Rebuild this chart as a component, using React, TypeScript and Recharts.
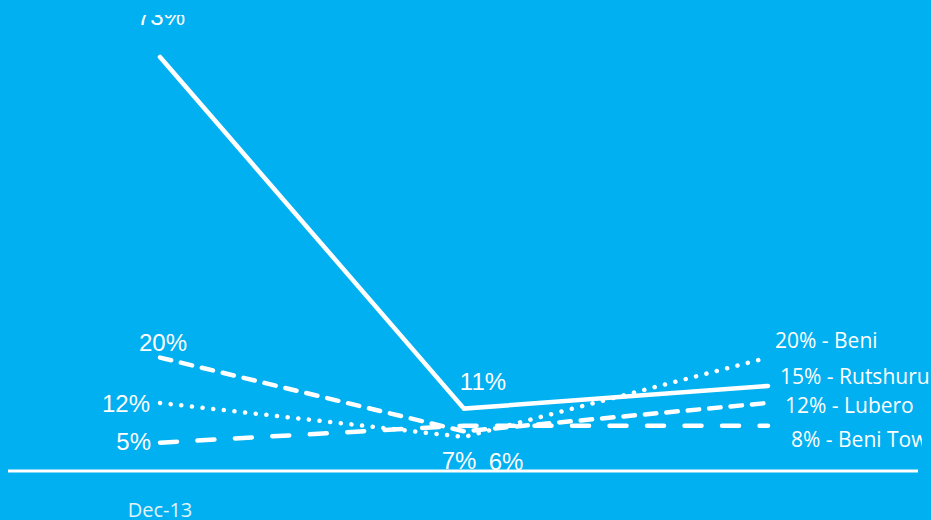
import React from "react";
import { LineChart, Line, XAxis, YAxis, LabelList } from "recharts";

// ---- data ----
const categories = ["Dec-13", "Round 2", "Round 3"];
const tickLabels = ["Dec-13", "", ""];
const rutshuru = [73, 11, 15];
const lubero = [20, 7, 12];
const beni = [12, 6, 20];
const beniTown = [5, 8, 8];
const seriesNames = ["Rutshuru", "Lubero", "Beni", "Beni Town"];

const data = categories.map((c, i) => ({
  cat: c,
  rutshuru: rutshuru[i],
  lubero: lubero[i],
  beni: beni[i],
  beniTown: beniTown[i],
}));

// ---- styles ----
const BG = "#00B0F0";
type LCfg = { dx: number; dy: number; anchor: "start" | "middle" | "end"; clip?: boolean } | null;

const cfgRutshuru: LCfg[] = [
  { dx: 1, dy: -32, anchor: "middle" },
  { dx: 19, dy: -19, anchor: "middle" },
  { dx: 12, dy: -2, anchor: "start" },
];
const cfgLubero: LCfg[] = [
  { dx: 3, dy: -7, anchor: "middle" },
  { dx: -5, dy: 38, anchor: "middle" },
  { dx: 17, dy: 10, anchor: "start" },
];
const cfgBeni: LCfg[] = [
  { dx: -10, dy: 9, anchor: "end" },
  { dx: 42, dy: 33, anchor: "middle" },
  { dx: 7, dy: -10, anchor: "start" },
];
const cfgBeniTown: LCfg[] = [
  { dx: -9, dy: 7, anchor: "end" },
  null,
  { dx: 23, dy: 21, anchor: "start", clip: true },
];

const makeLabel = (name: string, cfg: LCfg[]) => (props: any) => {
  const { x, y, value, index } = props;
  const c = cfg[index];
  if (!c) return null;
  const isEnd = index === categories.length - 1;
  const text = isEnd ? `${value}% - ${name}` : `${value}%`;
  const clipId = `clip-${name.replace(/\s/g, "")}`;
  return (
    <g>
      {c.clip && (
        <defs>
          <clipPath id={clipId}>
            <rect x={0} y={0} width={922} height={520} />
          </clipPath>
        </defs>
      )}
      <text
        x={x + c.dx}
        y={y + c.dy}
        textAnchor={c.anchor}
        fill="#FFFFFF"
        fontFamily={isEnd ? "Open Sans" : "Liberation Sans, Arial"}
        fontSize={isEnd ? 21 : 24}
        clipPath={c.clip ? `url(#${clipId})` : undefined}
      >
        {text}
      </text>
    </g>
  );
};

const Tick = (props: any) => {
  const { x, y, payload } = props;
  return (
    <text
      x={x}
      y={y}
      dy={46}
      textAnchor="middle"
      fill="#E3F3FB"
      fontFamily="Open Sans"
      fontSize={20}
    >
      {tickLabels[payload.index] ?? ""}
    </text>
  );
};

export default function App() {
  return (
    <div
      style={{
        position: "absolute",
        left: 0,
        top: 0,
        width: 931,
        height: 520,
        background: BG,
        overflow: "hidden",
      }}
    >
      <div style={{ position: "absolute", left: 0, top: 15 }}>
        <LineChart
          width={931}
          height={505}
          data={data}
          margin={{ top: 42, right: 13, bottom: 0, left: 8 }}
        >
          <XAxis
            dataKey="cat"
            axisLine={{ stroke: "#FFFFFF", strokeWidth: 3 }}
            tickLine={false}
            tickSize={0}
            tickMargin={0}
            tick={<Tick />}
            padding={{ left: 152, right: 150 }}
            height={49}
            interval={0}
          />
          <YAxis hide domain={[0, 73]} />
          <Line
            dataKey="rutshuru"
            stroke="#FFFFFF"
            strokeWidth={4.5}
            strokeLinecap="round"
            dot={false}
            activeDot={false}
            isAnimationActive={false}
          >
            <LabelList dataKey="rutshuru" content={makeLabel(seriesNames[0], cfgRutshuru)} />
          </Line>
          <Line
            dataKey="lubero"
            stroke="#FFFFFF"
            strokeWidth={4.5}
            strokeLinecap="round"
            strokeDasharray="11.5 10"
            dot={false}
            activeDot={false}
            isAnimationActive={false}
          >
            <LabelList dataKey="lubero" content={makeLabel(seriesNames[1], cfgLubero)} />
          </Line>
          <Line
            dataKey="beni"
            stroke="#FFFFFF"
            strokeWidth={4.5}
            strokeLinecap="round"
            strokeDasharray="0.1 10.6"
            dot={false}
            activeDot={false}
            isAnimationActive={false}
          >
            <LabelList dataKey="beni" content={makeLabel(seriesNames[2], cfgBeni)} />
          </Line>
          <Line
            dataKey="beniTown"
            stroke="#FFFFFF"
            strokeWidth={4.5}
            strokeLinecap="round"
            strokeDasharray="17 20.5"
            dot={false}
            activeDot={false}
            isAnimationActive={false}
          >
            <LabelList dataKey="beniTown" content={makeLabel(seriesNames[3], cfgBeniTown)} />
          </Line>
        </LineChart>
      </div>
    </div>
  );
}
